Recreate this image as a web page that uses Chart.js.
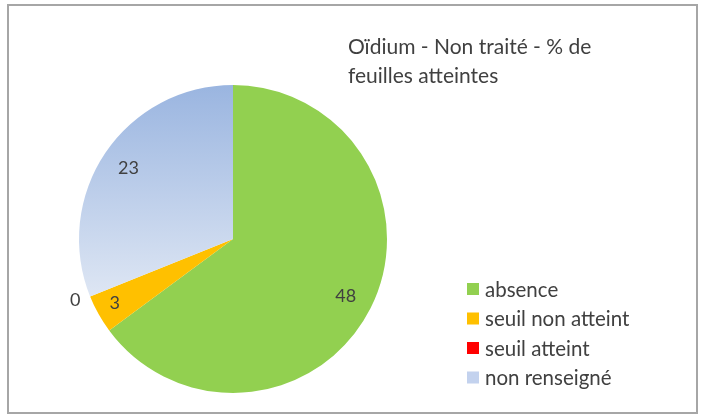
<!DOCTYPE html>
<html lang="fr">
<head>
<meta charset="utf-8">
<title>Oïdium - Non traité</title>
<script src="https://cdn.jsdelivr.net/npm/chart.js@4/dist/chart.umd.min.js"></script>
<style>
  html, body { margin: 0; padding: 0; background: #fff; }
  #wrap { position: relative; width: 704px; height: 416px; }
</style>
</head>
<body>
<div id="wrap"><canvas id="pieChart" width="704" height="416"></canvas></div>
<script>
// données du graphique
const categories = ['absence', 'seuil non atteint', 'seuil atteint', 'non renseigné'];
const valeurs = [48, 3, 0, 23];
const couleurs = ['#92d050', '#ffc000', '#ff0000', '#b4c7e7'];
const titre = ['Oïdium - Non traité - % de', 'feuilles atteintes'];

const FONT = 'Lato, "Open Sans", sans-serif';
const TEXTE = '#404040';

// dégradé bleu pour "non renseigné"
function fondTranche(c) {
    if (c.dataIndex !== 3) return couleurs[c.dataIndex];
    const area = c.chart.chartArea;
    if (!area) return couleurs[3];
    const g = c.chart.ctx.createLinearGradient(0, area.top, 0, area.top + 215);
    g.addColorStop(0, '#9ab5e0');
    g.addColorStop(1, '#dfe7f4');
    return g;
}

// cadre, titre, étiquettes et légende dessinés sur le canvas
const decor = {
    id: 'decor',
    beforeDraw(chart) {
        const ctx = chart.ctx;
        ctx.save();
        ctx.strokeStyle = '#a6a6a6';
        ctx.lineWidth = 2;
        ctx.strokeRect(8, 5, 689, 408);
        ctx.restore();
    },
    afterDatasetsDraw(chart) {
        const ctx = chart.ctx;
        const meta = chart.getDatasetMeta(0);
        ctx.save();
        ctx.fillStyle = TEXTE;
        ctx.textAlign = 'center';
        ctx.textBaseline = 'middle';
        ctx.font = '18px ' + FONT;
        meta.data.forEach((arc, i) => {
            const p = arc.getProps(['x', 'y', 'startAngle', 'endAngle', 'outerRadius'], true);
            const mid = (p.startAngle + p.endAngle) / 2;
            const r = valeurs[i] === 0 ? p.outerRadius * 1.09 : p.outerRadius * 0.82;
            let x = p.x + Math.cos(mid) * r;
            let y = p.y + Math.sin(mid) * r;
            if (valeurs[i] === 3) { x -= 8; y += 3; }
            if (valeurs[i] === 0) { x -= 2; y -= 1; }
            ctx.fillText(String(valeurs[i]), x, y);
        });

        // titre
        ctx.textAlign = 'left';
        ctx.textBaseline = 'alphabetic';
        ctx.font = '21px ' + FONT;
        ctx.fillText(titre[0], 348, 54);
        ctx.fillText(titre[1], 348, 83);

        // légende
        ctx.font = '20.5px ' + FONT;
        ctx.textBaseline = 'middle';
        categories.forEach((lab, i) => {
            const y = 289 + i * 29.5;
            ctx.fillStyle = i === 3 ? '#c3d2ee' : couleurs[i];
            ctx.fillRect(467, y - 6, 12, 12);
            ctx.fillStyle = TEXTE;
            ctx.fillText(lab, 485, y + 1);
        });
        ctx.restore();
    }
};

const ctx = document.getElementById('pieChart').getContext('2d');
const pieChart = new Chart(ctx, {
    type: 'pie',
    data: {
        labels: categories,
        datasets: [{
            data: valeurs,
            backgroundColor: fondTranche,
            borderWidth: 0
        }]
    },
    options: {
        responsive: false,
        animation: false,
        layout: {
            padding: { left: 79, right: 317, top: 85, bottom: 23 }
        },
        plugins: {
            legend: { display: false },
            tooltip: { enabled: false }
        }
    },
    plugins: [decor]
});
</script>
</body>
</html>
